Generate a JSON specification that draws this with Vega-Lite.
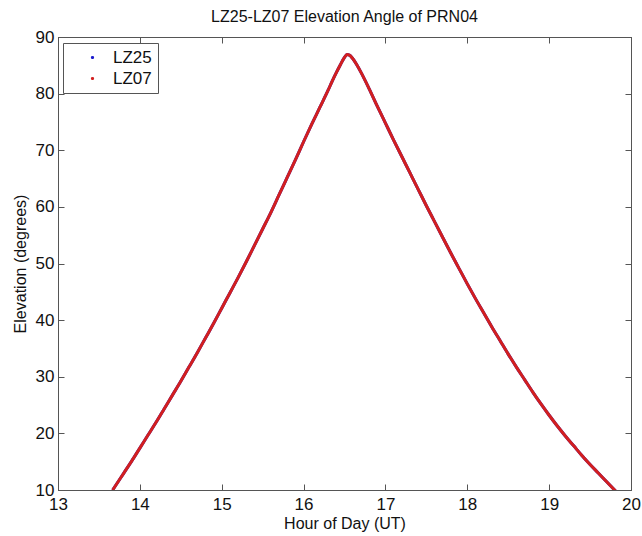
{
  "$schema": "https://vega.github.io/schema/vega-lite/v6.json",
  "width": 573,
  "height": 453,
  "autosize": {"type": "none"},
  "padding": {"left": 58, "top": 37, "right": 11, "bottom": 46},
  "background": "white",
  "config": {
    "font": "Liberation Sans",
    "view": {"stroke": "#555555", "strokeWidth": 1}
  },
  "title": {
    "text": "LZ25-LZ07 Elevation Angle of PRN04",
    "fontSize": 16,
    "fontWeight": "normal",
    "color": "#111111",
    "font": "Liberation Sans",
    "anchor": "middle",
    "frame": "group",
    "offset": 3
  },
  "data": {
    "values": [
      {"hour": 13.668, "LZ25": 10.0, "LZ07": 10.0},
      {"hour": 13.7, "LZ25": 10.7, "LZ07": 10.7},
      {"hour": 13.8, "LZ25": 12.9, "LZ07": 12.9},
      {"hour": 13.9, "LZ25": 15.1, "LZ07": 15.1},
      {"hour": 14.0, "LZ25": 17.4, "LZ07": 17.4},
      {"hour": 14.1, "LZ25": 19.7, "LZ07": 19.7},
      {"hour": 14.2, "LZ25": 22.0, "LZ07": 22.0},
      {"hour": 14.3, "LZ25": 24.4, "LZ07": 24.4},
      {"hour": 14.4, "LZ25": 26.8, "LZ07": 26.8},
      {"hour": 14.5, "LZ25": 29.2, "LZ07": 29.2},
      {"hour": 14.6, "LZ25": 31.7, "LZ07": 31.7},
      {"hour": 14.7, "LZ25": 34.2, "LZ07": 34.2},
      {"hour": 14.8, "LZ25": 36.8, "LZ07": 36.8},
      {"hour": 14.9, "LZ25": 39.4, "LZ07": 39.4},
      {"hour": 15.0, "LZ25": 42.1, "LZ07": 42.1},
      {"hour": 15.1, "LZ25": 44.8, "LZ07": 44.8},
      {"hour": 15.2, "LZ25": 47.5, "LZ07": 47.5},
      {"hour": 15.3, "LZ25": 50.3, "LZ07": 50.3},
      {"hour": 15.4, "LZ25": 53.2, "LZ07": 53.2},
      {"hour": 15.5, "LZ25": 56.1, "LZ07": 56.1},
      {"hour": 15.6, "LZ25": 59.0, "LZ07": 59.0},
      {"hour": 15.7, "LZ25": 62.1, "LZ07": 62.1},
      {"hour": 15.8, "LZ25": 65.2, "LZ07": 65.2},
      {"hour": 15.9, "LZ25": 68.3, "LZ07": 68.3},
      {"hour": 16.0, "LZ25": 71.5, "LZ07": 71.5},
      {"hour": 16.1, "LZ25": 74.6, "LZ07": 74.6},
      {"hour": 16.2, "LZ25": 77.6, "LZ07": 77.6},
      {"hour": 16.3, "LZ25": 80.6, "LZ07": 80.6},
      {"hour": 16.35, "LZ25": 82.2, "LZ07": 82.2},
      {"hour": 16.4, "LZ25": 83.7, "LZ07": 83.7},
      {"hour": 16.45, "LZ25": 85.1, "LZ07": 85.1},
      {"hour": 16.5, "LZ25": 86.4, "LZ07": 86.4},
      {"hour": 16.53, "LZ25": 86.9, "LZ07": 86.9},
      {"hour": 16.56, "LZ25": 86.8, "LZ07": 86.8},
      {"hour": 16.6, "LZ25": 86.2, "LZ07": 86.2},
      {"hour": 16.65, "LZ25": 85.1, "LZ07": 85.1},
      {"hour": 16.7, "LZ25": 83.8, "LZ07": 83.8},
      {"hour": 16.8, "LZ25": 80.9, "LZ07": 80.9},
      {"hour": 16.9, "LZ25": 77.8, "LZ07": 77.8},
      {"hour": 17.0, "LZ25": 74.8, "LZ07": 74.8},
      {"hour": 17.1, "LZ25": 71.8, "LZ07": 71.8},
      {"hour": 17.2, "LZ25": 68.9, "LZ07": 68.9},
      {"hour": 17.3, "LZ25": 66.0, "LZ07": 66.0},
      {"hour": 17.4, "LZ25": 63.1, "LZ07": 63.1},
      {"hour": 17.5, "LZ25": 60.2, "LZ07": 60.2},
      {"hour": 17.6, "LZ25": 57.4, "LZ07": 57.4},
      {"hour": 17.7, "LZ25": 54.6, "LZ07": 54.6},
      {"hour": 17.8, "LZ25": 51.8, "LZ07": 51.8},
      {"hour": 17.9, "LZ25": 49.1, "LZ07": 49.1},
      {"hour": 18.0, "LZ25": 46.4, "LZ07": 46.4},
      {"hour": 18.1, "LZ25": 43.8, "LZ07": 43.8},
      {"hour": 18.2, "LZ25": 41.3, "LZ07": 41.3},
      {"hour": 18.3, "LZ25": 38.8, "LZ07": 38.8},
      {"hour": 18.4, "LZ25": 36.4, "LZ07": 36.4},
      {"hour": 18.5, "LZ25": 34.0, "LZ07": 34.0},
      {"hour": 18.6, "LZ25": 31.7, "LZ07": 31.7},
      {"hour": 18.7, "LZ25": 29.5, "LZ07": 29.5},
      {"hour": 18.8, "LZ25": 27.3, "LZ07": 27.3},
      {"hour": 18.9, "LZ25": 25.2, "LZ07": 25.2},
      {"hour": 19.0, "LZ25": 23.2, "LZ07": 23.2},
      {"hour": 19.1, "LZ25": 21.3, "LZ07": 21.3},
      {"hour": 19.2, "LZ25": 19.5, "LZ07": 19.5},
      {"hour": 19.3, "LZ25": 17.8, "LZ07": 17.8},
      {"hour": 19.4, "LZ25": 16.1, "LZ07": 16.1},
      {"hour": 19.5, "LZ25": 14.5, "LZ07": 14.5},
      {"hour": 19.6, "LZ25": 13.0, "LZ07": 13.0},
      {"hour": 19.7, "LZ25": 11.5, "LZ07": 11.5},
      {"hour": 19.8, "LZ25": 10.0, "LZ07": 10.0},
      {"hour": 19.81, "LZ25": 9.85, "LZ07": 9.85}
    ]
  },
  "layer": [
    {
      "mark": {"type": "line", "strokeWidth": 3, "clip": true, "interpolate": "monotone"},
      "encoding": {
        "x": {
          "field": "hour", "type": "quantitative",
          "scale": {"domain": [13, 20], "nice": false, "zero": false},
          "axis": {
            "orient": "bottom", "title": "Hour of Day (UT)",
            "values": [13, 14, 15, 16, 17, 18, 19, 20],
            "grid": false, "tickSize": -6, "labelPadding": 12,
            "labelFontSize": 17, "labelColor": "#111111", "labelFlush": false,
            "titleFontSize": 16, "titleFontWeight": "normal", "titleColor": "#111111", "titlePadding": 3,
            "domainColor": "#555555", "tickColor": "#555555"
          }
        },
        "y": {
          "field": "LZ25", "type": "quantitative",
          "scale": {"domain": [10, 90], "nice": false, "zero": false},
          "axis": {
            "orient": "left", "title": "Elevation (degrees)",
            "values": [10, 20, 30, 40, 50, 60, 70, 80, 90],
            "grid": false, "tickSize": -6, "labelPadding": 10,
            "labelFontSize": 17, "labelColor": "#111111", "labelFlush": false,
            "titleFontSize": 16, "titleFontWeight": "normal", "titleColor": "#111111", "titlePadding": 7,
            "domainColor": "#555555", "tickColor": "#555555"
          }
        },
        "color": {
          "datum": "LZ25",
          "scale": {"domain": ["LZ25", "LZ07"], "range": ["#1a1acc", "#d21f1f"]},
          "legend": {
            "orient": "none", "legendX": 5, "legendY": 6,
            "title": null,
            "strokeColor": "#555555", "fillColor": "white",
            "padding": 6,
            "symbolType": "circle", "symbolSize": 3, "symbolStrokeWidth": 1.5,
            "symbolOffset": 15,
            "labelOffset": 12,
            "labelFontSize": 17, "labelColor": "#111111",
            "rowPadding": 3
          }
        }
      }
    },
    {
      "mark": {"type": "line", "strokeWidth": 3, "clip": true, "interpolate": "monotone"},
      "encoding": {
        "x": {
          "field": "hour", "type": "quantitative",
          "axis": {
            "orient": "top", "title": null, "labels": false,
            "values": [13, 14, 15, 16, 17, 18, 19, 20],
            "grid": false, "tickSize": -6,
            "domainColor": "#555555", "tickColor": "#555555"
          }
        },
        "y": {
          "field": "LZ07", "type": "quantitative",
          "axis": {
            "orient": "right", "title": null, "labels": false,
            "values": [10, 20, 30, 40, 50, 60, 70, 80, 90],
            "grid": false, "tickSize": -6,
            "domainColor": "#555555", "tickColor": "#555555"
          }
        },
        "color": {"datum": "LZ07"}
      }
    }
  ],
  "resolve": {"axis": {"x": "independent", "y": "independent"}}
}
